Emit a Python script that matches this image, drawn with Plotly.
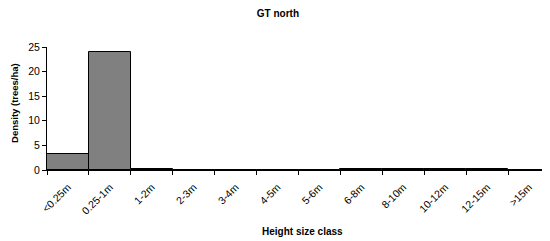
import plotly.graph_objects as go

categories = ["<0.25m", "0.25-1m", "1-2m", "2-3m", "3-4m", "4-5m", "5-6m",
              "6-8m", "8-10m", "10-12m", "12-15m", ">15m"]
density = [3.2, 24.0, 0.3, 0, 0, 0, 0, 0.2, 0.2, 0.2, 0.2, 0]

fig = go.Figure(go.Bar(
    x=categories, y=density,
    marker=dict(color="#808080", line=dict(color="black", width=1)),
))

font = "Liberation Sans, Arial, sans-serif"
fig.update_layout(
    width=542, height=233,
    margin=dict(l=39, r=0, t=39, b=71, pad=0),
    paper_bgcolor="white", plot_bgcolor="white",
    bargap=0,
    showlegend=False,
    font=dict(family=font, size=9, color="black"),
    title=dict(text="<b>GT north</b>", x=0.498, xanchor="center", xref="container",
               yref="container", y=0.975, yanchor="middle",
               font=dict(size=10, family=font, color="black")),
    annotations=[
        dict(text="<b>Height size class</b>", xref="paper", yref="paper",
             x=0.507, y=-0.504, xanchor="center", yanchor="middle", showarrow=False,
             font=dict(size=10, family=font)),
        dict(text="<b>Density (trees/ha)</b>", xref="paper", yref="paper",
             x=-0.0636, y=0.545, xanchor="center", yanchor="middle", showarrow=False,
             textangle=-90, font=dict(size=9.5, family=font)),
    ],
)
fig.update_xaxes(
    type="category", tickangle=-45, tickson="boundaries", automargin=False,
    ticks="outside", ticklen=4, tickcolor="black",
    showline=True, linecolor="black", linewidth=1,
    tickfont=dict(size=10.5, family=font),
    ticklabelstandoff=6,
)
fig.update_yaxes(
    range=[0, 25], dtick=5, automargin=False,
    ticks="outside", ticklen=4, tickcolor="black",
    showline=True, linecolor="black", linewidth=1,
    showgrid=False, zeroline=False,
    tickfont=dict(size=10.5, family=font),
)

fig.write_html("out.html")
